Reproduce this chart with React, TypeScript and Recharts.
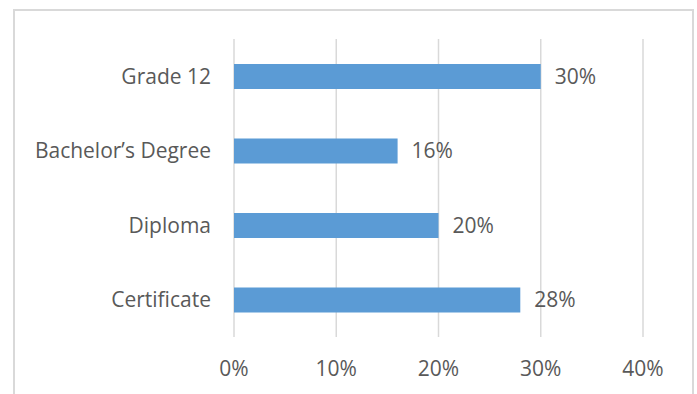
import React from 'react';
import { BarChart, Bar, XAxis, YAxis, CartesianGrid, LabelList } from 'recharts';

const categories = ['Grade 12', 'Bachelor\u2019s Degree', 'Diploma', 'Certificate'];
const shares = [0.30, 0.16, 0.20, 0.28];
const xTicks = [0, 0.1, 0.2, 0.3, 0.4];

const data = categories.map((name, i) => ({ name, value: shares[i] }));
const pct = (v: number) => `${Math.round(v * 100)}%`;

const FONT = '"Open Sans", Lato, sans-serif';
const TEXT = '#595959';
const FS = 21;

export default function App() {
  return (
    <div style={{ position: 'absolute', left: 0, top: 0, width: 697, height: 394, background: '#fff', overflow: 'hidden', fontFamily: FONT }}>
      <div style={{ position: 'absolute', left: 13, top: 9, width: 681, height: 400, border: '2px solid #d9d9d9', boxSizing: 'border-box' }} />
      <div style={{ position: 'absolute', left: 0, top: 0 }}>
        <BarChart
          width={697}
          height={394}
          data={data}
          layout="vertical"
          margin={{ top: 39, right: 54, bottom: 27, left: 12 }}
          barCategoryGap={0}
        >
          <CartesianGrid horizontal={false} vertical stroke="#d9d9d9" strokeWidth={1.5} />
          <XAxis
            type="number"
            domain={[0, 0.4]}
            ticks={xTicks}
            tickFormatter={pct}
            axisLine={false}
            tickLine={false}
            tickMargin={18}
            tick={{ fill: TEXT, fontSize: FS, fontFamily: FONT }}
            interval={0}
          />
          <YAxis
            type="category"
            dataKey="name"
            width={222}
            axisLine={false}
            tickLine={false}
            tickMargin={17}
            tick={{ fill: TEXT, fontSize: FS, fontFamily: FONT }}
            interval={0}
          />
          <Bar dataKey="value" fill="#5B9BD5" barSize={25} isAnimationActive={false}>
            <LabelList dataKey="value" position="right" offset={14} formatter={(v: number) => pct(v)} fill={TEXT} fontSize={FS} fontFamily={FONT} />
          </Bar>
        </BarChart>
      </div>
    </div>
  );
}
